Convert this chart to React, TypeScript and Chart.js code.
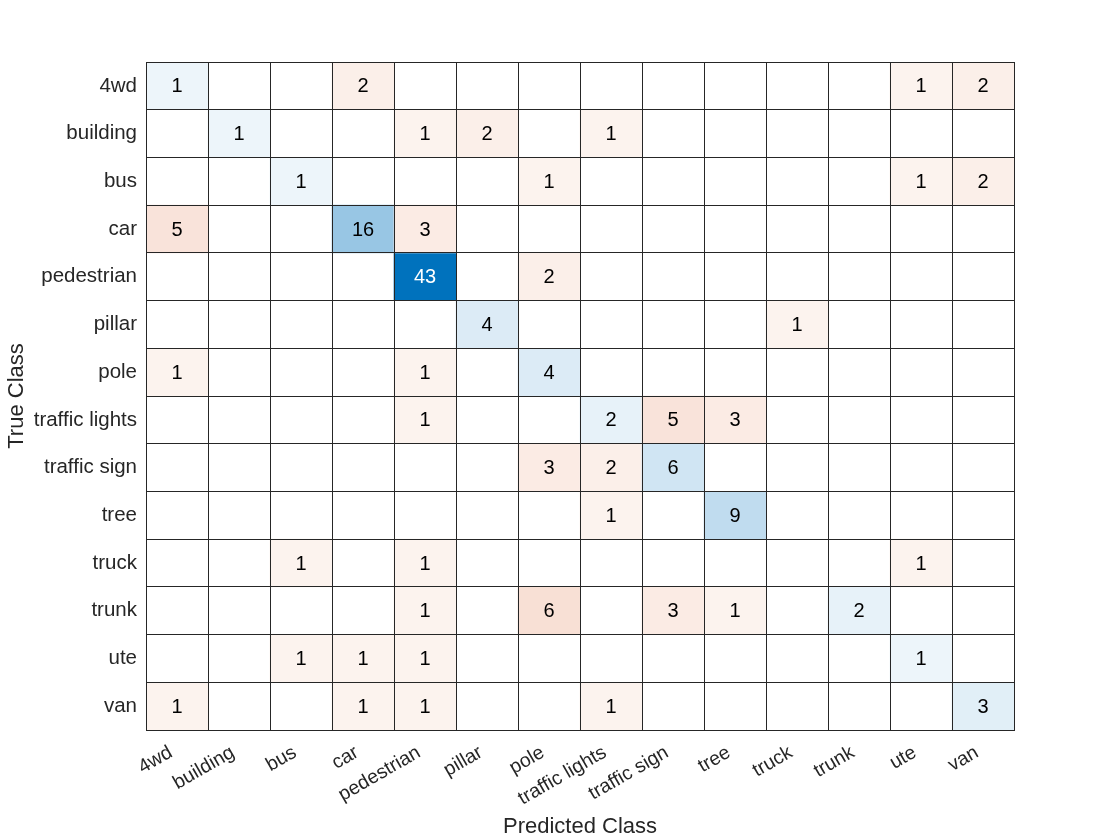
import React, { useEffect, useRef } from "react";
import { Chart, registerables } from "chart.js";

Chart.register(...registerables);

const classes = [
  "4wd", "building", "bus", "car", "pedestrian", "pillar", "pole",
  "traffic lights", "traffic sign", "tree", "truck", "trunk", "ute", "van",
];

// rows = true class, columns = predicted class
const row4wd = [1, 0, 0, 2, 0, 0, 0, 0, 0, 0, 0, 0, 1, 2];
const rowBuilding = [0, 1, 0, 0, 1, 2, 0, 1, 0, 0, 0, 0, 0, 0];
const rowBus = [0, 0, 1, 0, 0, 0, 1, 0, 0, 0, 0, 0, 1, 2];
const rowCar = [5, 0, 0, 16, 3, 0, 0, 0, 0, 0, 0, 0, 0, 0];
const rowPedestrian = [0, 0, 0, 0, 43, 0, 2, 0, 0, 0, 0, 0, 0, 0];
const rowPillar = [0, 0, 0, 0, 0, 4, 0, 0, 0, 0, 1, 0, 0, 0];
const rowPole = [1, 0, 0, 0, 1, 0, 4, 0, 0, 0, 0, 0, 0, 0];
const rowTrafficLights = [0, 0, 0, 0, 1, 0, 0, 2, 5, 3, 0, 0, 0, 0];
const rowTrafficSign = [0, 0, 0, 0, 0, 0, 3, 2, 6, 0, 0, 0, 0, 0];
const rowTree = [0, 0, 0, 0, 0, 0, 0, 1, 0, 9, 0, 0, 0, 0];
const rowTruck = [0, 0, 1, 0, 1, 0, 0, 0, 0, 0, 0, 0, 1, 0];
const rowTrunk = [0, 0, 0, 0, 1, 0, 6, 0, 3, 1, 0, 2, 0, 0];
const rowUte = [0, 0, 1, 1, 1, 0, 0, 0, 0, 0, 0, 0, 1, 0];
const rowVan = [1, 0, 0, 1, 1, 0, 0, 1, 0, 0, 0, 0, 0, 3];

const matrix = [
  row4wd, rowBuilding, rowBus, rowCar, rowPedestrian, rowPillar, rowPole,
  rowTrafficLights, rowTrafficSign, rowTree, rowTruck, rowTrunk, rowUte, rowVan,
];

const TEXT = "#262626";
const FONT = "'Liberation Sans', Arial, Helvetica, sans-serif";
const maxVal = Math.max(...matrix.map((r) => Math.max(...r)));

function cellColor(v: number, diag: boolean): string {
  if (!v) return "rgba(0,0,0,0)";
  const t = 0.05 + 0.95 * (v / maxVal);
  const base = diag ? [0, 114, 189] : [217, 83, 25];
  const c = base.map((b) => Math.round(255 * (1 - t) + b * t));
  return `rgb(${c[0]},${c[1]},${c[2]})`;
}

const cellLabels = {
  id: "cellLabels",
  afterDatasetsDraw(chart: any) {
    const ctx = chart.ctx;
    ctx.save();
    ctx.font = `20px ${FONT}`;
    ctx.textAlign = "center";
    ctx.textBaseline = "middle";
    chart.data.datasets.forEach((ds: any, r: number) => {
      const meta = chart.getDatasetMeta(r);
      meta.data.forEach((el: any, c: number) => {
        const v = matrix[r][c];
        if (!v) return;
        const t = v / maxVal;
        ctx.fillStyle = t > 0.6 ? "#ffffff" : "#000000";
        ctx.fillText(String(v), el.x, (el.y + el.base) / 2 + 1);
      });
    });
    ctx.restore();
  },
};

export default function App() {
  const ref = useRef<HTMLCanvasElement | null>(null);
  useEffect(() => {
    document.body.style.margin = "0";
    const datasets = matrix.map((row, r) => ({
      label: classes[r],
      data: row.map(() => [r - 0.5, r + 0.5]),
      backgroundColor: row.map((v, c) => cellColor(v, r === c)),
      borderWidth: 0,
      barPercentage: 1,
      categoryPercentage: 1,
      grouped: false,
      yAxisID: "y",
    }));
    const chart = new Chart(ref.current as HTMLCanvasElement, {
      type: "bar",
      data: { labels: classes, datasets: datasets as any },
      plugins: [cellLabels],
      options: {
        animation: false,
        responsive: false,
        devicePixelRatio: 1,
        layout: { padding: { left: 0, top: 62, right: 106, bottom: 0 } },
        plugins: { legend: { display: false }, tooltip: { enabled: false } },
        scales: {
          x: {
            type: "category",
            offset: true,
            grid: { offset: true, color: TEXT, lineWidth: 1, drawTicks: false, z: 1 },
            border: { color: TEXT, z: 1 },
            ticks: {
              minRotation: 30,
              maxRotation: 30,
              autoSkip: false,
              padding: 11,
              labelOffset: -6,
              color: TEXT,
              font: { family: FONT, size: 19.5 },
            },
            title: {
              display: true,
              text: "Predicted Class",
              color: TEXT,
              font: { family: FONT, size: 22 },
              padding: { top: 0, bottom: 0 },
            },
            afterFit: (s: any) => { s.height = 110; },
          },
          y: {
            type: "linear",
            position: "left",
            min: -0.5,
            max: 13.5,
            reverse: true,
            grid: { display: false, drawTicks: false },
            border: { display: false },
            afterBuildTicks: (s: any) => { s.ticks = classes.map((_, i) => ({ value: i })); },
            ticks: {
              autoSkip: false,
              padding: 9,
              color: TEXT,
              font: { family: FONT, size: 20.5 },
              callback: (v: any) => classes[v as number] ?? "",
            },
            title: {
              display: true,
              text: "True Class",
              color: TEXT,
              font: { family: FONT, size: 22 },
              padding: { top: 4, bottom: 0 },
            },
            afterFit: (s: any) => { s.width = 146; },
          },
          y2: {
            type: "linear",
            position: "right",
            min: -0.5,
            max: 13.5,
            reverse: true,
            grid: { color: TEXT, lineWidth: 1, drawTicks: false, z: 1 },
            border: { color: TEXT, z: 1 },
            afterBuildTicks: (s: any) => {
              s.ticks = Array.from({ length: classes.length + 1 }, (_, i) => ({ value: i - 0.5 }));
            },
            ticks: { display: false },
            afterFit: (s: any) => { s.width = 0; },
          },
        },
      } as any,
    });
    return () => chart.destroy();
  }, []);
  return (
    <div style={{ width: 1120, height: 840, background: "#fff" }}>
      <canvas ref={ref} width={1120} height={840} style={{ display: "block" }} />
    </div>
  );
}
